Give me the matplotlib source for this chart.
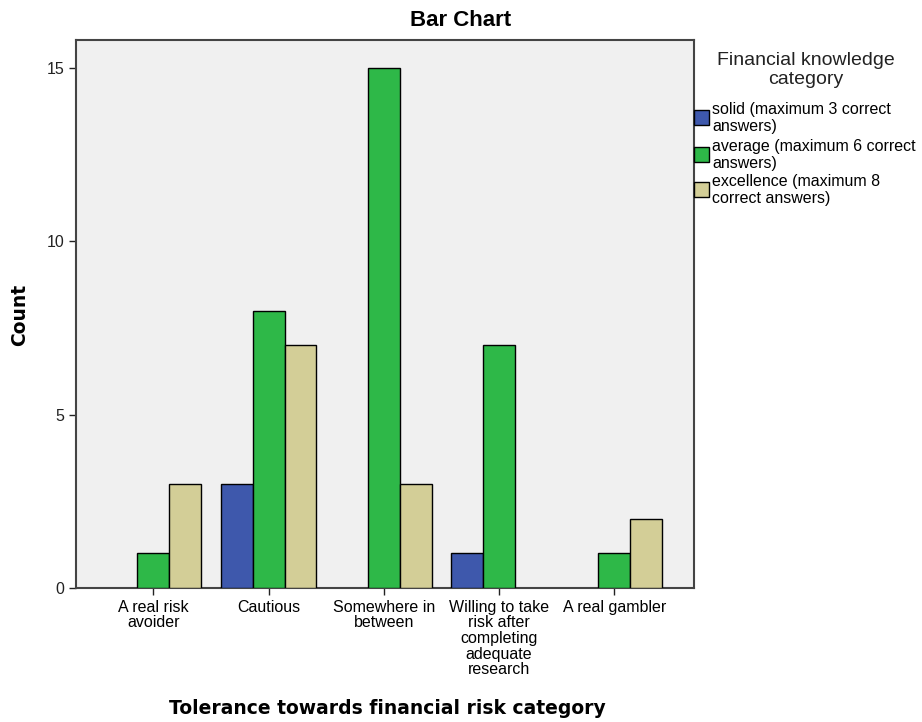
import matplotlib
matplotlib.use("Agg")
import matplotlib.pyplot as plt
import numpy as np
from matplotlib.patches import Rectangle

categories = ["A real risk\navoider", "Cautious", "Somewhere in\nbetween",
              "Willing to take\nrisk after\ncompleting\nadequate\nresearch",
              "A real gambler"]
series_names = ["solid (maximum 3 correct\nanswers)",
                "average (maximum 6 correct\nanswers)",
                "excellence (maximum 8\ncorrect answers)"]
solid = [0, 3, 0, 1, 0]
average = [1, 8, 15, 7, 1]
excellence = [3, 7, 3, 0, 2]

colors = ['#3E58AC', '#2EB848', '#D3CE97']

plt.rcParams['font.family'] = ['Liberation Sans', 'DejaVu Sans']

fig = plt.figure(figsize=(9.22, 7.22), dpi=100)
ax = fig.add_axes([76 / 922, 1 - 588 / 722, 618 / 922, 548 / 722])
ax.set_facecolor('#F0F0F0')

x = np.arange(len(categories))
width = 0.277
for i, vals in enumerate([solid, average, excellence]):
    vals = np.array(vals)
    keep = vals > 0
    ax.bar(x[keep] + (i - 1) * width, vals[keep], width=width,
           color=colors[i], edgecolor='black', linewidth=1.0, zorder=3)

ax.set_xlim(-0.67, 4.69)
ax.set_ylim(0, 15.8)
ax.set_yticks([0, 5, 10, 15])
ax.set_xticks(x)
ax.set_xticklabels(categories, fontsize=11.5, linespacing=1.05)
ax.tick_params(axis='both', length=5, width=1, color='#222222')
ax.tick_params(axis='y', labelsize=11.5, labelcolor='#222222')
for s in ax.spines.values():
    s.set_color('#444444')
    s.set_linewidth(1.5)

fig.text(0.5, 1 - 20 / 722, "Bar Chart", ha='center', va='center',
         fontsize=16, fontweight='bold')
fig.text(20 / 922, 1 - 315 / 722, "Count", ha='center', va='center',
         rotation=90, fontsize=13.5, fontweight='bold', family='DejaVu Sans')
fig.text(387 / 922, 1 - 708 / 722, "Tolerance towards financial risk category",
         ha='center', va='center', fontsize=13.5, fontweight='bold',
         family='DejaVu Sans')

# legend
fig.text(806 / 922, 1 - 70 / 722, "Financial knowledge\ncategory", ha='center',
         va='center', fontsize=14, color='#222222', linespacing=1.2)
legend_y = [118, 155, 190]
for name, c, yy in zip(series_names, colors, legend_y):
    fig.patches.append(Rectangle((694 / 922, 1 - (yy + 7) / 722), 15 / 922, 15 / 722,
                                 transform=fig.transFigure, facecolor=c,
                                 edgecolor='black', linewidth=1.0))
    fig.text(712 / 922, 1 - yy / 722, name, ha='left', va='center',
             fontsize=11.5, linespacing=1.1)

fig.savefig("out.png", dpi=100)
